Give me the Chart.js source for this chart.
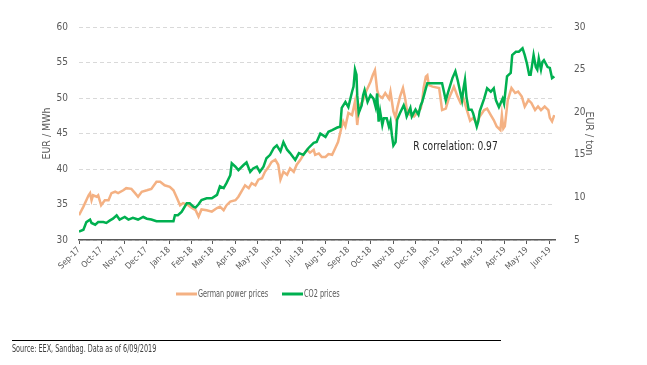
<!DOCTYPE html>
<html>
<head>
<meta charset="utf-8">
<script src="https://cdn.jsdelivr.net/npm/chart.js@4.4.1/dist/chart.umd.min.js"></script>
<style>
    body { margin: 0; background: #fff; }
    #wrap { position: relative; width: 647px; height: 365px; }
    #chart { position: absolute; left: 0; top: 0; }
    #source-rule { position: absolute; left: 12px; top: 340px; width: 489px; border-top: 1px solid #000; }
    #source { position: absolute; left: 12px; top: 343px; font-size: 10px; color: #404040; white-space: nowrap;
              font-family: 'DejaVu Sans Condensed', sans-serif; transform: scaleX(0.72); transform-origin: 0 0; }
</style>
</head>
<body>
<div id="wrap">
    <canvas id="chart" width="647" height="365"></canvas>
    <div id="source-rule"></div>
    <div id="source">Source: EEX, Sandbag. Data as of 6/09/2019</div>
</div>
<script>
const FONT = "'DejaVu Sans Condensed', sans-serif";
const TEXT = '#595959';

// month ticks along the bottom
const tickLabels = ['Sep-17', 'Oct-17', 'Nov-17', 'Dec-17', 'Jan-18', 'Feb-18', 'Mar-18', 'Apr-18',
    'May-18', 'Jun-18', 'Jul-18', 'Aug-18', 'Sep-18', 'Oct-18', 'Nov-18', 'Dec-18', 'Jan-19',
    'Feb-19', 'Mar-19', 'Apr-19', 'May-19', 'Jun-19'];

// German power prices (EUR / MWh, left axis)
const powerDates = ['2017-09-01', '2017-09-07', '2017-09-14', '2017-09-16', '2017-09-18', '2017-09-20',
    '2017-09-25', '2017-09-27', '2017-10-01', '2017-10-06', '2017-10-11', '2017-10-15', '2017-10-20',
    '2017-10-24', '2017-10-31', '2017-11-04', '2017-11-11', '2017-11-16', '2017-11-20', '2017-11-25',
    '2017-12-02', '2017-12-08', '2017-12-15', '2017-12-20', '2017-12-26', '2018-01-02', '2018-01-07',
    '2018-01-11', '2018-01-16', '2018-01-20', '2018-01-27', '2018-02-01', '2018-02-06', '2018-02-10',
    '2018-02-14', '2018-02-21', '2018-02-28', '2018-03-07', '2018-03-11', '2018-03-16', '2018-03-20',
    '2018-03-25', '2018-04-01', '2018-04-05', '2018-04-10', '2018-04-14', '2018-04-19', '2018-04-23',
    '2018-04-28', '2018-05-02', '2018-05-07', '2018-05-11', '2018-05-16', '2018-05-20', '2018-05-25',
    '2018-05-29', '2018-06-01', '2018-06-05', '2018-06-10', '2018-06-14', '2018-06-19', '2018-06-23',
    '2018-06-28', '2018-07-02', '2018-07-07', '2018-07-11', '2018-07-16', '2018-07-18', '2018-07-23',
    '2018-07-27', '2018-08-01', '2018-08-05', '2018-08-10', '2018-08-14', '2018-08-18', '2018-08-23',
    '2018-08-25', '2018-08-28', '2018-09-01', '2018-09-06', '2018-09-10', '2018-09-12', '2018-09-13',
    '2018-09-16', '2018-09-21', '2018-09-25', '2018-10-01', '2018-10-04', '2018-10-07', '2018-10-10',
    '2018-10-12', '2018-10-17', '2018-10-21', '2018-10-26', '2018-10-28', '2018-10-30', '2018-11-01',
    '2018-11-04', '2018-11-06', '2018-11-10', '2018-11-14', '2018-11-17', '2018-11-19', '2018-11-24',
    '2018-11-29', '2018-12-03', '2018-12-08', '2018-12-10', '2018-12-12', '2018-12-15', '2018-12-17',
    '2018-12-19', '2018-12-24', '2019-01-02', '2019-01-04', '2019-01-06', '2019-01-11', '2019-01-15',
    '2019-01-20', '2019-01-22', '2019-01-27', '2019-01-31', '2019-02-04', '2019-02-08', '2019-02-13',
    '2019-02-17', '2019-02-22', '2019-02-26', '2019-03-04', '2019-03-08', '2019-03-13', '2019-03-17',
    '2019-03-21', '2019-03-26', '2019-03-28', '2019-03-30', '2019-04-01', '2019-04-05', '2019-04-10',
    '2019-04-15', '2019-04-19', '2019-04-24', '2019-04-28', '2019-05-03', '2019-05-07', '2019-05-12',
    '2019-05-16', '2019-05-20', '2019-05-25', '2019-05-30', '2019-06-01', '2019-06-04', '2019-06-07'];
const powerValues = [33.5, 34.7, 36.3, 36.6, 35.6, 36.3,
    36.1, 36.3, 34.9, 35.6, 35.6, 36.6, 36.8,
    36.6, 37.0, 37.3, 37.2, 36.6, 36.1, 36.8,
    37.0, 37.2, 38.2, 38.2, 37.7, 37.5, 37.0,
    36.1, 34.9, 35.2, 34.9, 34.5, 34.2, 33.3,
    34.3, 34.2, 34.0, 34.5, 34.7, 34.2, 34.9,
    35.4, 35.6, 36.1, 37.0, 37.7, 37.3, 38.0,
    37.7, 38.5, 38.7, 39.6, 40.3, 41.0, 41.3,
    40.6, 38.5, 39.6, 39.2, 40.1, 39.6, 40.6,
    41.3, 42.0, 42.7, 42.3, 42.7, 42.0, 42.2,
    41.7, 41.7, 42.1, 42.0, 42.9, 43.8, 46.0,
    46.7, 46.0, 47.9, 47.6, 49.5, 47.6, 46.2,
    48.8, 49.7, 50.9, 52.3, 53.2, 53.9, 51.1,
    50.4, 50.0, 50.7, 49.9, 50.9, 49.5, 48.1,
    47.2, 48.5, 50.2, 51.4, 49.9, 48.5, 47.6,
    47.4, 47.9, 48.5, 49.5, 51.4, 53.0, 53.2,
    51.8, 51.6, 51.4, 49.9, 48.3, 48.5, 49.9,
    51.1, 51.6, 50.2, 49.3, 49.9, 48.5, 46.8,
    47.2, 46.4, 47.4, 48.3, 48.5, 47.6, 46.9,
    46.0, 45.5, 47.6, 45.7, 46.0, 49.7, 51.4,
    50.7, 50.9, 50.2, 48.8, 49.7, 49.3, 48.3,
    48.8, 48.3, 48.8, 48.3, 47.2, 46.7, 47.6];

// CO2 prices (EUR / ton, right axis)
const co2Dates = ['2017-09-01', '2017-09-07', '2017-09-11', '2017-09-16', '2017-09-18', '2017-09-23',
    '2017-09-27', '2017-10-04', '2017-10-08', '2017-10-13', '2017-10-17', '2017-10-22', '2017-10-26',
    '2017-11-02', '2017-11-07', '2017-11-13', '2017-11-20', '2017-11-27', '2017-12-02', '2017-12-08',
    '2017-12-15', '2017-12-26', '2018-01-07', '2018-01-09', '2018-01-13', '2018-01-18', '2018-01-25',
    '2018-01-29', '2018-02-03', '2018-02-06', '2018-02-10', '2018-02-14', '2018-02-21', '2018-02-28',
    '2018-03-07', '2018-03-11', '2018-03-16', '2018-03-20', '2018-03-25', '2018-03-27', '2018-04-01',
    '2018-04-05', '2018-04-12', '2018-04-16', '2018-04-21', '2018-04-25', '2018-04-30', '2018-05-04',
    '2018-05-09', '2018-05-13', '2018-05-18', '2018-05-23', '2018-05-27', '2018-06-01', '2018-06-05',
    '2018-06-10', '2018-06-14', '2018-06-21', '2018-06-26', '2018-07-02', '2018-07-09', '2018-07-16',
    '2018-07-20', '2018-07-25', '2018-08-01', '2018-08-05', '2018-08-10', '2018-08-17', '2018-08-21',
    '2018-08-23', '2018-08-28', '2018-09-01', '2018-09-06', '2018-09-08', '2018-09-10', '2018-09-12',
    '2018-09-13', '2018-09-15', '2018-09-19', '2018-09-21', '2018-09-23', '2018-09-27', '2018-10-01',
    '2018-10-05', '2018-10-08', '2018-10-10', '2018-10-12', '2018-10-14', '2018-10-17', '2018-10-19',
    '2018-10-23', '2018-10-26', '2018-10-28', '2018-10-30', '2018-11-01', '2018-11-04', '2018-11-06',
    '2018-11-10', '2018-11-15', '2018-11-17', '2018-11-19', '2018-11-24', '2018-11-26', '2018-12-01',
    '2018-12-05', '2018-12-08', '2018-12-10', '2018-12-15', '2018-12-17', '2019-01-06', '2019-01-11',
    '2019-01-15', '2019-01-20', '2019-01-24', '2019-01-27', '2019-01-31', '2019-02-02', '2019-02-04',
    '2019-02-06', '2019-02-08', '2019-02-11', '2019-02-15', '2019-02-17', '2019-02-22', '2019-02-24',
    '2019-02-26', '2019-03-04', '2019-03-08', '2019-03-13', '2019-03-17', '2019-03-20', '2019-03-24',
    '2019-03-29', '2019-03-31', '2019-04-04', '2019-04-09', '2019-04-11', '2019-04-16', '2019-04-20',
    '2019-04-25', '2019-04-28', '2019-05-01', '2019-05-04', '2019-05-06', '2019-05-10', '2019-05-13',
    '2019-05-15', '2019-05-17', '2019-05-20', '2019-05-22', '2019-05-24', '2019-05-29', '2019-06-01',
    '2019-06-04', '2019-06-07'];
const co2Values = [6.0, 6.2, 7.1, 7.4, 7.0, 6.8,
    7.1, 7.1, 7.0, 7.3, 7.5, 7.9, 7.4,
    7.7, 7.4, 7.6, 7.4, 7.7, 7.5, 7.4,
    7.2, 7.2, 7.2, 7.9, 7.9, 8.3, 9.3,
    9.3, 8.9, 8.8, 9.2, 9.7, 9.9, 9.9,
    10.3, 11.3, 11.1, 11.7, 12.6, 14.0, 13.6,
    13.2, 13.8, 14.1, 13.0, 13.4, 13.6, 13.0,
    13.6, 14.6, 15.0, 15.8, 16.1, 15.4, 16.5,
    15.6, 15.2, 14.4, 15.2, 15.0, 15.8, 16.4,
    16.5, 17.5, 17.1, 17.7, 17.9, 18.2, 18.3,
    20.5, 21.2, 20.6, 22.4, 23.0, 25.0, 24.4,
    22.0, 19.9, 20.8, 22.0, 22.6, 21.2, 22.0,
    21.6, 20.6, 22.2, 18.9, 20.1, 18.5, 19.3,
    19.3, 18.3, 18.9, 17.3, 16.1, 16.5, 19.1,
    19.9, 20.8, 20.3, 19.5, 20.5, 19.5, 20.3,
    19.7, 20.8, 21.2, 22.8, 23.4, 23.4, 21.4,
    22.6, 24.0, 24.8, 23.8, 22.2, 21.4, 22.8,
    23.8, 21.8, 20.3, 20.3, 19.9, 18.3, 18.9,
    20.1, 21.6, 22.8, 22.4, 22.8, 21.4, 20.6,
    21.6, 21.0, 24.2, 24.6, 26.7, 27.1, 27.1,
    27.5, 26.7, 25.7, 24.4, 24.4, 26.7, 25.3,
    25.0, 26.3, 25.0, 25.9, 26.1, 25.3, 25.2,
    24.0, 24.2];

const START = Date.parse('2017-09-01');
const dayOf = s => (Date.parse(s) - START) / 86400000;

// first day of each labelled month, as days from the start
const tickDays = tickLabels.map((_, i) => (Date.UTC(2017, 8 + i, 1) - START) / 86400000);

const toPoints = (dates, values) => dates.map((d, i) => ({ x: dayOf(d), y: values[i] }));

// squeeze text sideways to imitate the condensed face of the original
function narrowText(ctx, text, x, y, squeeze) {
    ctx.save();
    ctx.translate(x, y);
    ctx.scale(squeeze, 1);
    ctx.fillText(text, 0, 0);
    ctx.restore();
}

// legend drawn as short lines, like the original
const lineLegend = {
    id: 'lineLegend',
    afterDraw(chart) {
        const ctx = chart.ctx;
        const spots = [176, 282];
        ctx.save();
        ctx.font = '11px ' + FONT;
        ctx.textBaseline = 'middle';
        chart.data.datasets.forEach((ds, i) => {
            const x = spots[i];
            ctx.strokeStyle = ds.borderColor;
            ctx.lineWidth = 3;
            ctx.beginPath();
            ctx.moveTo(x, 294);
            ctx.lineTo(x + 21, 294);
            ctx.stroke();
            ctx.fillStyle = TEXT;
            narrowText(ctx, ds.label, x + 22, 294, 0.66);
        });
        ctx.restore();
    }
};

// correlation note, placed on the chart's own scales
const corrNote = {
    id: 'corrNote',
    afterDraw(chart) {
        const ctx = chart.ctx;
        const x = chart.scales.x.getPixelForValue(dayOf('2018-11-28'));
        const y = chart.scales.y.getPixelForValue(43.1);
        ctx.save();
        ctx.font = '13px ' + FONT;
        ctx.fillStyle = '#262626';
        ctx.textBaseline = 'middle';
        narrowText(ctx, 'R correlation: 0.97', x, y, 0.78);
        ctx.restore();
    }
};

new Chart(document.getElementById('chart'), {
    type: 'line',
    data: {
        datasets: [{
            label: 'German power prices',
            data: toPoints(powerDates, powerValues),
            borderColor: '#F4B183',
            borderWidth: 2.5,
            pointRadius: 0,
            tension: 0,
            yAxisID: 'y',
            order: 2
        }, {
            label: 'CO2 prices',
            data: toPoints(co2Dates, co2Values),
            borderColor: '#00B050',
            borderWidth: 2.5,
            pointRadius: 0,
            tension: 0,
            yAxisID: 'y1',
            order: 1
        }]
    },
    options: {
        responsive: false,
        animation: false,
        layout: { padding: { left: 37, right: 48, top: 27, bottom: 0 } },
        plugins: {
            legend: { display: false },
            tooltip: { enabled: false }
        },
        scales: {
            x: {
                type: 'linear',
                min: 0,
                max: dayOf('2019-06-08'),
                afterBuildTicks: axis => { axis.ticks = tickDays.map(v => ({ value: v })); },
                afterFit: axis => { axis.height = 125; },
                ticks: {
                    autoSkip: false,
                    minRotation: 45,
                    maxRotation: 45,
                    padding: 1,
                    color: TEXT,
                    font: { family: FONT, size: 8.5 },
                    callback: (v, i) => tickLabels[i]
                },
                grid: { drawOnChartArea: false, drawTicks: true, tickLength: 4, tickColor: '#595959' },
                border: { color: '#595959', width: 1.5 }
            },
            y: {
                position: 'left',
                min: 30,
                max: 60,
                afterFit: axis => { axis.width = 42; },
                ticks: { stepSize: 5, padding: 11, color: TEXT, font: { family: FONT, size: 10 } },
                grid: { color: '#d9d9d9', drawTicks: false },
                border: { display: false, dash: [4, 3] },
                title: { display: true, text: 'EUR / MWh', color: TEXT, font: { family: FONT, size: 10.5 } }
            },
            y1: {
                position: 'right',
                min: 5,
                max: 30,
                afterFit: axis => { axis.width = 44; },
                ticks: { stepSize: 5, padding: 11, color: TEXT, font: { family: FONT, size: 10 } },
                grid: { display: false },
                border: { display: false },
                title: { display: true, text: 'EUR / ton', color: TEXT, font: { family: FONT, size: 10.5 } }
            }
        }
    },
    plugins: [lineLegend, corrNote]
});
</script>
</body>
</html>
